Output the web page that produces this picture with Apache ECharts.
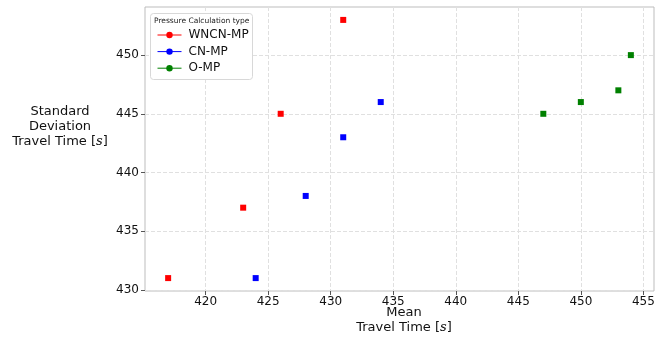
<!DOCTYPE html>
<html><head><meta charset="utf-8">
<script src="https://cdn.jsdelivr.net/npm/echarts@6/dist/echarts.min.js"></script>
<style>html,body{margin:0;padding:0;background:#fff}#c{width:671px;height:337px}</style>
</head><body><div id="c"></div>
<script>
const seriesNames = ['WNCN-MP', 'CN-MP', 'O-MP'];
const seriesColors = ['#ff0000', '#0000ff', '#008000'];
const wncnMean = [417, 423, 426, 431];
const wncnStd = [431, 437, 445, 453];
const cnMean = [424, 428, 431, 434];
const cnStd = [431, 438, 443, 446];
const ompMean = [447, 450, 453, 454];
const ompStd = [445, 446, 447, 450];
const xTicks = [420, 425, 430, 435, 440, 445, 450, 455];
const yTicks = [430, 435, 440, 445, 450];

const pairs = (a, b) => a.map((v, i) => [v, b[i]]);
const dataSets = [pairs(wncnMean, wncnStd), pairs(cnMean, cnStd), pairs(ompMean, ompStd)];

const font = 'DejaVu Sans';
const chart = echarts.init(document.getElementById('c'));
const series = [];
dataSets.forEach((d, i) => {
  series.push({
    type: 'scatter', name: seriesNames[i] + ' pts', data: d, symbol: 'rect', symbolSize: 6,
    itemStyle: { color: seriesColors[i], opacity: 1 }, z: 3
  });
  series.push({
    type: 'line', name: seriesNames[i], data: [], symbol: 'circle', symbolSize: 6,
    itemStyle: { color: seriesColors[i] }, lineStyle: { color: seriesColors[i], width: 1 }
  });
});

chart.setOption({
  animation: false,
  grid: { left: 145, right: 17, top: 7, bottom: 46, show: true, borderColor: '#bdbdbd', borderWidth: 1 },
  xAxis: {
    type: 'value', min: 415.15, max: 455.85, interval: 5,
    axisLine: { show: false },
    axisTick: { show: true, length: 4, lineStyle: { color: '#555' }, customValues: xTicks },
    axisLabel: { color: '#111', fontFamily: font, fontSize: 12, margin: 5, customValues: xTicks },
    splitLine: { show: true, lineStyle: { color: '#e0e0e0', type: 'dashed' } }
  },
  yAxis: {
    type: 'value', min: 429.9, max: 454.1, interval: 5,
    axisLine: { show: false },
    axisTick: { show: true, length: 4, lineStyle: { color: '#555' }, customValues: yTicks },
    axisLabel: { color: '#111', fontFamily: font, fontSize: 12, margin: 6, customValues: yTicks },
    splitLine: { show: true, lineStyle: { color: '#e0e0e0', type: 'dashed' } }
  },
  legend: {
    data: seriesNames, orient: 'vertical', left: 157, top: 28, z: 20, padding: 0,
    itemWidth: 24, itemHeight: 8, itemGap: 2.6,
    lineStyle: { width: 1 },
    textStyle: { fontFamily: font, fontSize: 12, lineHeight: 14, color: '#111', padding: [0, 0, 0, 2] }
  },
  graphic: [
    { type: 'rect', left: 150, top: 13, z: 1,
      shape: { width: 102, height: 66, r: 3 },
      style: { fill: '#fff', stroke: '#d8d8d8', lineWidth: 1 } },
    { type: 'text', x: 154, y: 21, z: 30,
      style: { text: 'Pressure Calculation type', font: '7.5px "DejaVu Sans"', fill: '#222', verticalAlign: 'middle' } },
    { type: 'text', x: 60, y: 127, z: 30,
      style: { text: 'Standard\nDeviation\nTravel Time [{i|s}]', font: '13px "DejaVu Sans"', fill: '#111',
        align: 'center', verticalAlign: 'middle', lineHeight: 15,
        rich: { i: { fontStyle: 'italic', fontFamily: 'DejaVu Serif', fontSize: 13, fill: '#111' } } } },
    { type: 'text', x: 404, y: 320, z: 30,
      style: { text: 'Mean\nTravel Time [{i|s}]', font: '13px "DejaVu Sans"', fill: '#111',
        align: 'center', verticalAlign: 'middle', lineHeight: 15,
        rich: { i: { fontStyle: 'italic', fontFamily: 'DejaVu Serif', fontSize: 13, fill: '#111' } } } }
  ],
  series: series
});
</script></body></html>
